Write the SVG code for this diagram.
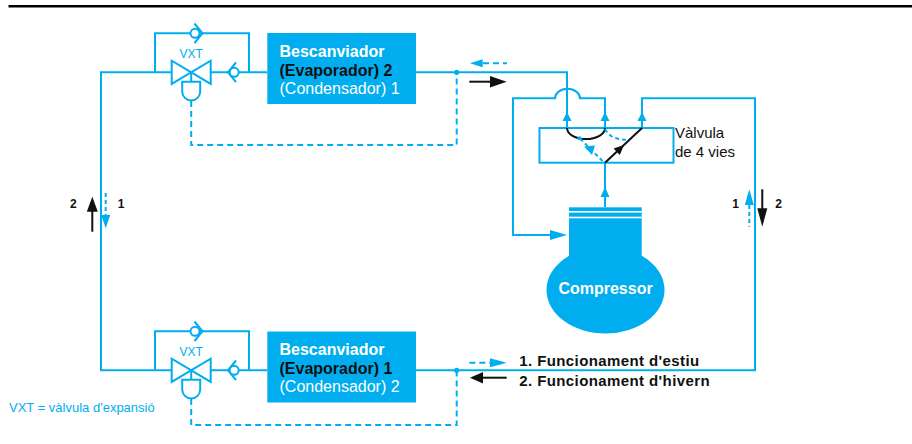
<svg xmlns="http://www.w3.org/2000/svg" width="912" height="444" viewBox="0 0 912 444">
  <style>
    .ln{fill:none;stroke:#00AEEF;stroke-width:2}
    .dash{fill:none;stroke:#00AEEF;stroke-width:2;stroke-dasharray:6 4}
    .sdash{fill:none;stroke:#00AEEF;stroke-width:2;stroke-dasharray:4 3}
    .blk{fill:none;stroke:#111;stroke-width:2}
    .sym{fill:#fff;stroke:#00AEEF;stroke-width:2}
    .fb{fill:#00AEEF}
    .fk{fill:#111}
    .t{font-family:"Liberation Sans",Arial,Helvetica,sans-serif}
    .box-t{font-size:16px}
    .w{fill:#fff}
    .k{fill:#111}
    .b{font-weight:bold}
    .num{font-size:12px;font-weight:bold;fill:#111}
    .leg{font-size:15px;font-weight:bold;fill:#111;letter-spacing:0.4px}
  </style>
  <defs>
    <!-- expansion valve with bypass and two check valves -->
    <g id="vxtAssembly">
      <path class="ln" d="M155,72.3 V33.3 H249 V72.3"/>
      <!-- check valve on bypass -->
      <path class="ln" d="M194.5,23.5 L202.5,33.3 L194.5,43"/>
      <circle class="sym" cx="195" cy="33.3" r="4.5"/>
      <!-- check valve on main line -->
      <path class="ln" d="M236,62.5 L228,72.3 L236,82"/>
      <circle class="sym" cx="234.2" cy="72.3" r="4.5"/>
      <!-- valve body (bow tie) -->
      <path class="sym" stroke-linejoin="miter" d="M171.7,60.7 L171.7,83.9 L210.7,60.7 L210.7,83.9 Z"/>
      <!-- actuator -->
      <path class="ln" d="M191.2,72.3 V81.7"/>
      <path class="sym" d="M182.2,81.7 H200.2 V91.5 A9,9 0 0 1 182.2,91.5 Z"/>
      <text class="t" x="191.2" y="57.5" font-size="12" text-anchor="middle" fill="#00AEEF">VXT</text>
    </g>
  </defs>

  <!-- header rule -->
  <line x1="8.5" y1="6.2" x2="912" y2="6.2" stroke="#000" stroke-width="2.5"/>

  <!-- piping and flow arrows -->
  <g id="connectors">
    <!-- left riser and both exchanger feeds -->
    <path class="ln" d="M267,72.3 H101 V370.3 H267"/>
    <!-- upper exchanger to 4-way valve -->
    <path class="ln" d="M416,72.3 H567 V128"/>
    <!-- suction line from valve to compressor -->
    <path class="ln" d="M605,128 V98.3 H580 A12.5,9.5 0 0 0 555,98.3 H513 V235 H552"/>
    <path class="fb" d="M550,230 L567,235 L550,240 Z"/>
    <!-- valve to lower exchanger -->
    <path class="ln" d="M642,128 V98.3 H755 V370.3 H416"/>
    <!-- discharge from compressor -->
    <path class="ln" d="M605,207 V163"/>
    <path class="fb" d="M600.5,197 L605,187 L609.5,197 Z"/>
    <!-- port arrows -->
    <path class="fb" d="M562.5,121 L567,112 L571.5,121 Z"/>
    <path class="fb" d="M600.5,121 L605,112 L609.5,121 Z"/>
    <path class="fb" d="M637.5,121 L642,112 L646.5,121 Z"/>
    <!-- sensing lines -->
    <path class="dash" d="M191.2,101 V145 H456.7 V72.3"/>
    <path class="dash" d="M191.2,399 V425 H456.7 V370.3"/>
    <circle class="fb" cx="456.7" cy="72.3" r="2.6"/>
    <circle class="fb" cx="456.7" cy="370.3" r="2.6"/>
    <!-- flow arrows, upper exchanger -->
    <path class="dash" d="M483,63.3 H507"/>
    <path class="fb" d="M482.7,59.3 L470,63.3 L482.7,67.3 Z"/>
    <path class="blk" d="M469.3,81.7 H492"/>
    <path class="fk" d="M490,76 L506.7,81.7 L490,87.4 Z"/>
    <!-- flow arrows, lower exchanger -->
    <path class="dash" d="M469.3,362.7 H490"/>
    <path class="fb" d="M490,358.2 L506.7,362.7 L490,367.2 Z"/>
    <path class="blk" d="M481,377.7 H506.7"/>
    <path class="fk" d="M483,372 L470,377.7 L483,383.4 Z"/>
    <!-- flow arrows, left riser -->
    <path class="blk" d="M92.3,231.7 V210"/>
    <path class="fk" d="M86.8,211.7 L92.3,196.7 L97.8,211.7 Z"/>
    <path class="sdash" d="M105.7,193 V215"/>
    <path class="fb" d="M101.2,215 L110.2,215 L105.7,228.3 Z"/>
    <!-- flow arrows, right riser -->
    <path class="fb" d="M744.8,205 L749.3,189.3 L753.8,205 Z"/>
    <path class="sdash" d="M749.3,205 V226.7"/>
    <path class="blk" d="M762.3,189.3 V210"/>
    <path class="fk" d="M757.3,208.3 L767.3,208.3 L762.3,226.7 Z"/>
  </g>

  <g id="vxt-upper"><use href="#vxtAssembly"/></g>
  <g id="vxt-lower" transform="translate(0,298)"><use href="#vxtAssembly"/></g>

  <g id="exchanger-2">
    <rect class="fb" x="267.3" y="33" width="148.7" height="71"/>
    <text class="t box-t b w" x="279.5" y="56.7">Bescanviador</text>
    <text class="t box-t b k" x="279.5" y="75.7">(Evaporador) 2</text>
    <text class="t box-t w" x="279.5" y="94">(Condensador) 1</text>
  </g>

  <g id="exchanger-1">
    <rect class="fb" x="267.3" y="331.5" width="148.7" height="71"/>
    <text class="t box-t b w" x="279.5" y="355">Bescanviador</text>
    <text class="t box-t b k" x="279.5" y="374">(Evaporador) 1</text>
    <text class="t box-t w" x="279.5" y="392">(Condensador) 2</text>
  </g>

  <g id="four-way-valve">
    <rect class="sym" x="539.5" y="128" width="134" height="34.7"/>
    <path class="blk" d="M567,128 A19,11 0 0 0 605,128"/>
    <path class="sdash" d="M580,138.5 L604,162.5"/>
    <circle class="fb" cx="579.5" cy="138.3" r="2"/>
    <path class="fb" d="M584,146.5 L595,145.5 L592,155 Z"/>
    <path class="sdash" d="M605,129 Q611,141 630,139.5"/>
    <path class="blk" d="M605,162.7 L642,128"/>
    <path class="fk" d="M624,145 L613.6,148.5 L619.8,155.1 Z"/>
    <text class="t" x="675" y="138" font-size="15" fill="#111">Vàlvula</text>
    <text class="t" x="675" y="157" font-size="15" fill="#111">de 4 vies</text>
  </g>

  <g id="compressor">
    <ellipse class="fb" cx="605.5" cy="290" rx="59" ry="43.5"/>
    <rect class="fb" x="569" y="207.3" width="72.7" height="55"/>
    <rect fill="#fff" x="569" y="211" width="72.7" height="1.6"/>
    <rect fill="#fff" x="569" y="216.7" width="72.7" height="1.6"/>
    <text class="t b w" x="605.5" y="294" font-size="16" text-anchor="middle">Compressor</text>
  </g>

  <g id="labels">
    <text class="t num" x="73.3" y="208" text-anchor="middle">2</text>
    <text class="t num" x="121" y="208" text-anchor="middle">1</text>
    <text class="t num" x="735.5" y="208" text-anchor="middle">1</text>
    <text class="t num" x="778.5" y="208" text-anchor="middle">2</text>
    <text class="t leg" x="519.3" y="366">1. Funcionament d'estiu</text>
    <text class="t leg" x="519.3" y="386">2. Funcionament d'hivern</text>
    <text class="t" x="9" y="412.3" font-size="13" fill="#00AEEF">VXT = vàlvula d'expansió</text>
  </g>
</svg>
